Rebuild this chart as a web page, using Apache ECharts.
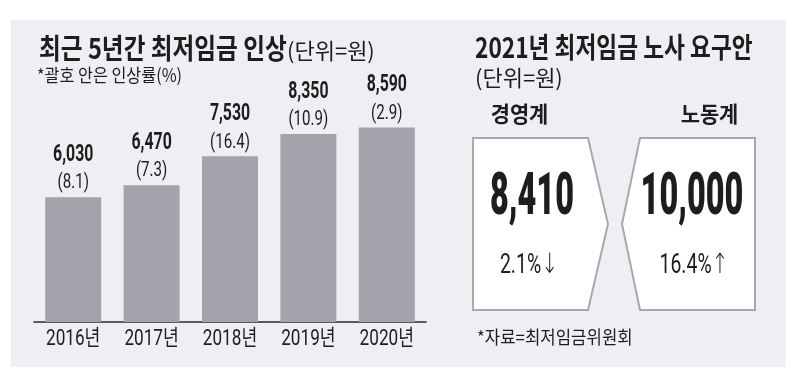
<!DOCTYPE html>
<html><head><meta charset="utf-8">
<script src="https://cdn.jsdelivr.net/npm/echarts@6/dist/echarts.min.js"></script>
<style>html,body{margin:0;padding:0;background:#fff}#c{width:800px;height:381px}</style>
</head><body><div id="c"></div>
<script>
const years = ['2016년', '2017년', '2018년', '2019년', '2020년'];
const wages = [6030, 6470, 7530, 8350, 8590];
const rates = [8.1, 7.3, 16.4, 10.9, 2.9];
const sides = ['경영계', '노동계'];
const demands = [8410, 10000];
const demandRates = ['2.1%', '16.4%'];
const demandArrows = ['↓', '↑'];
const leftTitle = '최근 5년간 최저임금 인상';
const unitText = '(단위=원)';
const noteText = '*괄호 안은 인상률(%)';
const rightTitle = '2021년 최저임금 노사 요구안';
const sourceText = '*자료=최저임금위원회';

const KR = "'Noto Sans CJK KR', 'Noto Sans', sans-serif";
const NUM = "Roboto, 'Noto Sans CJK KR', sans-serif";
const INK = '#1e1c1d';
const Y_MIN = 1450, Y_MAX = 10000;

function fmt(n){ return n.toLocaleString('en-US'); }

function txt(x, y, text, o){
  o = o || {};
  return {
    type: 'text', x: x, y: y, scaleX: o.sx || 1, scaleY: o.sy || 1, z: 10,
    style: {
      text: text, x: 0, y: 0,
      fontSize: o.size || 16, fontWeight: o.weight || 'normal',
      fontFamily: o.family || KR, fill: o.color || INK,
      align: o.align || 'left', verticalAlign: 'middle',
      rich: o.rich
    }
  };
}

const boxStyle = { fill: '#ffffff', stroke: '#a9a9ad', lineWidth: 2 };
const arrowRich = {
  n: { fontSize: 27, fontFamily: 'Roboto', color: INK },
  a: { fontSize: 28, fontFamily: "'DejaVu Sans'", fontWeight: 'lighter', color: INK }
};

const chart = echarts.init(document.getElementById('c'), null, {renderer: 'canvas'});
chart.setOption({
  backgroundColor: '#ffffff',
  animation: false,
  grid: { left: 34, right: 374, top: 89, bottom: 59 },
  xAxis: {
    type: 'category', data: years,
    axisLine: { show: true, lineStyle: { color: '#2a2a2a', width: 1.5 } },
    axisTick: { show: false },
    axisLabel: { show: false }
  },
  yAxis: { type: 'value', min: Y_MIN, max: Y_MAX, show: false, splitLine: { show: false } },
  series: [{
    type: 'bar', data: wages, barWidth: 56,
    itemStyle: { color: '#a3a4ab' }
  }, {
    type: 'custom',
    data: wages.map(function(v, i){ return [i, v]; }),
    renderItem: function(params, api){
      const i = api.value(0), v = api.value(1);
      const top = api.coord([i, v]);
      const base = api.coord([i, Y_MIN]);
      return { type: 'group', children: [
        { type: 'text', x: top[0], y: top[1] - 42, scaleX: 0.66,
          style: { text: fmt(v), fontSize: 24, fontWeight: 'bold', fontFamily: NUM, fill: INK, align: 'center', verticalAlign: 'middle' } },
        { type: 'text', x: top[0], y: top[1] - 14, scaleX: 0.72,
          style: { text: '(' + rates[i].toFixed(1) + ')', fontSize: 21, fontFamily: NUM, fill: INK, align: 'center', verticalAlign: 'middle' } },
        { type: 'text', x: base[0], y: base[1] + 17, scaleX: 0.78,
          style: { text: years[i], fontSize: 22, fontFamily: NUM, fill: INK, align: 'center', verticalAlign: 'middle' } }
      ]};
    },
    z: 5
  }],
  graphic: [
    { type: 'rect', z: -10, shape: { x: 11, y: 20, width: 775, height: 347 }, style: { fill: '#eeeff2' } },
    txt(39, 48, leftTitle, { size: 28, weight: 'bold', sx: 0.845 }),
    txt(287, 51, unitText, { size: 22, sx: 1.0 }),
    txt(37, 75, noteText, { size: 18, sx: 0.9 }),
    txt(475, 47, rightTitle, { size: 28, weight: 'bold', sx: 0.81 }),
    txt(475, 78, unitText, { size: 22, sx: 1.0 }),
    txt(519.5, 114, sides[0], { size: 22, weight: 'bold', sx: 0.95, align: 'center' }),
    txt(709.5, 114, sides[1], { size: 22, weight: 'bold', sx: 0.95, align: 'center' }),
    { type: 'polygon', z: 5, shape: { points: [[473,138],[588,138],[608,224],[588,310],[473,310]] }, style: boxStyle },
    { type: 'polygon', z: 5, shape: { points: [[640,138],[755,138],[755,310],[640,310],[622,224]] }, style: boxStyle },
    txt(532, 199, fmt(demands[0]), { size: 59, weight: 900, family: 'Roboto', sx: 0.55, align: 'center' }),
    txt(692, 199, fmt(demands[1]), { size: 59, weight: 900, family: 'Roboto', sx: 0.55, align: 'center' }),
    txt(529, 266, '{n|' + demandRates[0] + '}{a|' + demandArrows[0] + '}', { sx: 0.72, align: 'center', rich: arrowRich }),
    txt(694, 266, '{n|' + demandRates[1] + '}{a|' + demandArrows[1] + '}', { sx: 0.72, align: 'center', rich: arrowRich }),
    txt(477, 337, sourceText, { size: 18, sx: 0.93 })
  ]
});
</script></body></html>
